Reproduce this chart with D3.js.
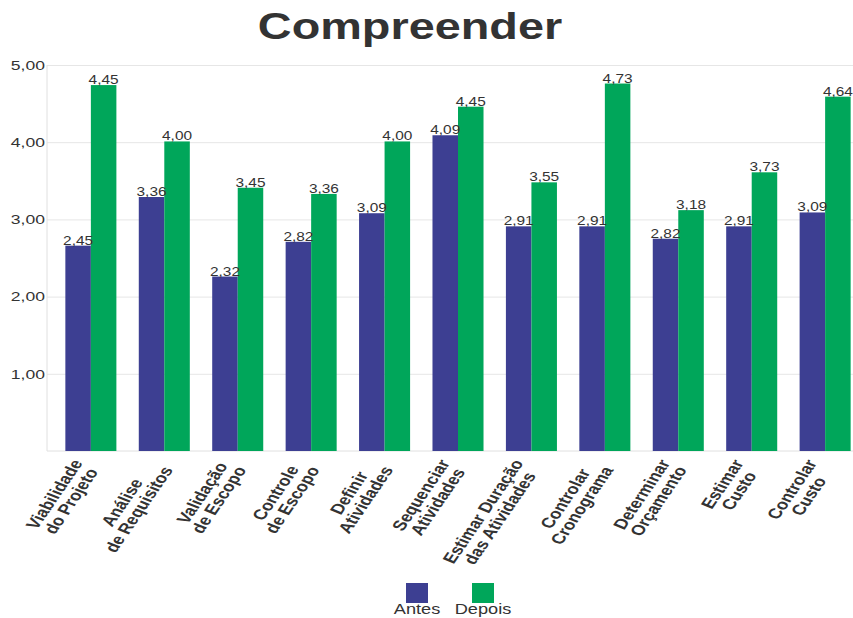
<!DOCTYPE html>
<html>
<head>
<meta charset="utf-8">
<script src="https://cdn.jsdelivr.net/npm/d3@7"></script>
<style>
  body { margin: 0; background: #fff; }
  text { font-family: "Liberation Sans", Arial, sans-serif; fill: #333; }
</style>
</head>
<body>
<div id="chart"></div>
<script>
var svgWidth = 853;
var svgHeight = 618;

// categorias (duas linhas cada)
var categorias = [
  ["Viabilidade", "do Projeto"],
  ["Análise", "de Requisitos"],
  ["Validação", "de Escopo"],
  ["Controle", "de Escopo"],
  ["Definir", "Atividades"],
  ["Sequenciar", "Atividades"],
  ["Estimar Duração", "das Atividades"],
  ["Controlar", "Cronograma"],
  ["Determinar", "Orçamento"],
  ["Estimar", "Custo"],
  ["Controlar", "Custo"]
];

// altura das barras
var antes  = [2.66, 3.29, 2.26, 2.71, 3.08, 4.09, 2.91, 2.91, 2.75, 2.91, 3.09];
var depois = [4.74, 4.01, 3.41, 3.33, 4.01, 4.46, 3.48, 4.76, 3.12, 3.61, 4.59];

// rotulos impressos sobre as barras
var antesRotulos  = ["2,45", "3,36", "2,32", "2,82", "3,09", "4,09", "2,91", "2,91", "2,82", "2,91", "3,09"];
var depoisRotulos = ["4,45", "4,00", "3,45", "3,36", "4,00", "4,45", "3,55", "4,73", "3,18", "3,73", "4,64"];

var series = ["Antes", "Depois"];
var cores = ["#3d3f92", "#00a65a"];
var yTicks = [1, 2, 3, 4, 5];

var stretch = 1.3;   // the picture is widened horizontally

var margin = { top: 65, left: 47, bottom: 167 };
var plotBottom = svgHeight - margin.bottom;

var svg = d3.select("#chart")
  .append("svg")
  .attr("width", svgWidth)
  .attr("height", svgHeight);

var idx = d3.range(categorias.length);

var x0 = d3.scaleBand()
  .domain(idx)
  .range([margin.left, 869])
  .paddingInner(0.305)
  .paddingOuter(0.25);

var x1 = d3.scaleBand()
  .domain(series)
  .range([0, x0.bandwidth()]);

var y = d3.scaleLinear()
  .domain([0, 5])
  .range([plotBottom, margin.top]);

var virgula = function(d) { return d3.format(".2f")(d).replace(".", ","); };

// grid
svg.append("g")
  .attr("transform", `translate(${margin.left},0)`)
  .call(d3.axisLeft(y).tickValues(yTicks).tickSize(-(svgWidth - margin.left)).tickFormat(""))
  .call(g => g.select(".domain").remove())
  .call(g => g.selectAll("line").attr("stroke", "#e6e6e6"));

// eixo y
svg.append("g")
  .attr("transform", `translate(${margin.left},0)`)
  .call(d3.axisLeft(y).tickValues(yTicks).tickSize(0).tickPadding(0).tickFormat(virgula))
  .call(g => g.select(".domain").remove())
  .call(g => g.selectAll("text")
    .attr("x", -2 / stretch)
    .attr("transform", `scale(${stretch},1)`)
    .style("font-size", "13.5px")
    .attr("fill", "#333"));

svg.append("line")
  .attr("x1", margin.left).attr("x2", margin.left)
  .attr("y1", y(5)).attr("y2", plotBottom)
  .attr("stroke", "#e0e0e0");

svg.append("line")
  .attr("x1", margin.left).attr("x2", svgWidth)
  .attr("y1", plotBottom).attr("y2", plotBottom)
  .attr("stroke", "#e0e0e0");

// barras
var grupos = svg.selectAll(".grupo")
  .data(idx)
  .enter()
  .append("g")
  .attr("class", "grupo")
  .attr("transform", d => `translate(${x0(d)},0)`);

grupos.each(function(i) {
  var g = d3.select(this);
  var linhas = [
    { s: "Antes", v: antes[i], r: antesRotulos[i] },
    { s: "Depois", v: depois[i], r: depoisRotulos[i] }
  ];
  g.selectAll("rect")
    .data(linhas)
    .enter()
    .append("rect")
    .attr("x", d => x1(d.s))
    .attr("y", d => y(d.v))
    .attr("width", x1.bandwidth())
    .attr("height", d => plotBottom - y(d.v))
    .attr("fill", (d, k) => cores[k]);

  g.selectAll("text.valor")
    .data(linhas)
    .enter()
    .append("text")
    .attr("class", "valor")
    .attr("text-anchor", "middle")
    .attr("transform", d => `translate(${x1(d.s) + x1.bandwidth() / 2},${y(d.v) - 1}) scale(${stretch * 0.95},1)`)
    .style("font-size", "12.5px")
    .text(d => d.r);
});

// rotulos do eixo x
var rotulos = svg.selectAll(".rotulo")
  .data(idx)
  .enter()
  .append("g")
  .attr("class", "rotulo")
  .attr("transform", d => `translate(${x0(d) + x0.bandwidth() / 2 - 5},${plotBottom + 13}) scale(${stretch},1) rotate(-62)`);

rotulos.each(function(i) {
  var g = d3.select(this);
  var t = g.selectAll("text")
    .data(categorias[i])
    .enter()
    .append("text")
    .attr("y", (d, k) => (k - 0.5) * 14.5 + 5)
    .style("font-size", "14.5px")
    .style("font-weight", "bold")
    .text(d => d);
  var w = d3.max(t.nodes(), n => n.getComputedTextLength());
  t.attr("text-anchor", "middle").attr("x", -w / 2);
});

// titulo
svg.append("text")
  .attr("text-anchor", "middle")
  .attr("transform", `translate(410,39) scale(${stretch},1)`)
  .style("font-size", "36px")
  .style("font-weight", "bold")
  .text("Compreender");

// legenda
var legenda = svg.selectAll(".legenda")
  .data(series)
  .enter()
  .append("g")
  .attr("class", "legenda")
  .attr("transform", (d, i) => `translate(${417 + i * 66},0)`);

legenda.append("rect")
  .attr("x", -11).attr("y", 583)
  .attr("width", 22).attr("height", 20)
  .attr("fill", (d, i) => cores[i]);

legenda.append("text")
  .attr("text-anchor", "middle")
  .attr("transform", `translate(0,614) scale(${stretch},1)`)
  .style("font-size", "14px")
  .text(d => d);
</script>
</body>
</html>
